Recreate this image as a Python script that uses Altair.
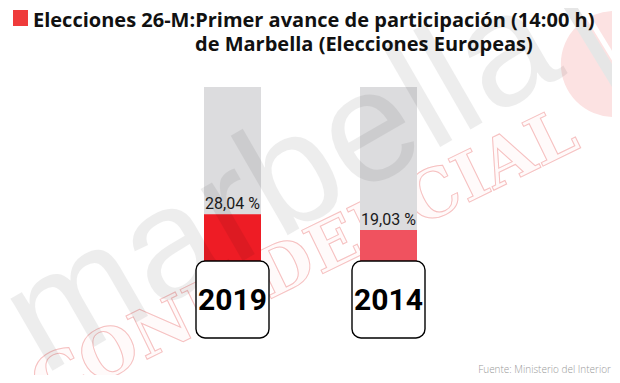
import altair as alt
import pandas as pd

years = ["2019", "2014"]
values = [28.04, 19.03]
labels = ["28,04 %", "19,03 %"]
bar_colors = ["#ee1c25", "#f0525f"]
full = [100, 100]

title_1 = "Elecciones 26-M:Primer avance de participación (14:00 h)"
title_2 = "de Marbella (Elecciones Europeas)"
source = "Fuente: Ministerio del Interior"

df = pd.DataFrame({"year": years, "value": values, "label": labels,
                   "color": bar_colors, "full": full})

# view: page x 154.5..466.5, y 87..338
L, T = 154.5, 87
W, H = 312, 251

x = alt.X("year:N", sort=years, axis=None,
          scale=alt.Scale(paddingInner=0, paddingOuter=0))
yscale = alt.Scale(domain=[-42, 100], nice=False, zero=False)

base = alt.Chart(df)

bg = base.mark_bar(size=57, color="#dcdcde").encode(
    x=x, y=alt.Y("full:Q", scale=yscale, axis=None), y2=alt.datum(0))

fg = base.mark_bar(size=57).encode(
    x=x, y=alt.Y("value:Q", scale=yscale, axis=None), y2=alt.datum(0),
    color=alt.Color("color:N", scale=None))

lab = base.mark_text(font="Roboto", fontSize=16, color="#1a1a1a",
                     baseline="alphabetic", dy=-5).encode(
    x=x, y=alt.Y("value:Q", scale=yscale), text="label:N")

box = base.mark_bar(size=73, fill="white", stroke="black", strokeWidth=1.4,
                    cornerRadius=9).encode(
    x=x, y=alt.value(261 - T), y2=alt.value(338 - T))

yr = base.mark_text(font="Roboto", fontSize=30, fontWeight="bold",
                    color="black", baseline="middle", dy=1).encode(
    x=x, y=alt.value(300 - T), text="year:N")

one = pd.DataFrame({"a": [0]})
ann = alt.Chart(one)

wm1 = ann.mark_text(text="marbella", font="Liberation Sans", fontSize=158,
                    angle=330, color="#000000", opacity=0.065,
                    align="center", baseline="middle").encode(
    x=alt.value(282 - L), y=alt.value(184 - T))

wm2 = ann.mark_text(text="CONFIDENCIAL", font="DejaVu Serif", fontSize=66,
                    fontWeight="bold", angle=334, fill="#fffafa", stroke="#f6c0c0",
                    strokeWidth=1, align="center", baseline="middle").encode(
    x=alt.value(305 - L), y=alt.value(260 - T))

logo = ann.mark_circle(color="#fce2e2", opacity=1, size=11300).encode(
    x=alt.value(614 - L), y=alt.value(64 - T))

stripe1 = ann.mark_rule(color="#e6e6e6", strokeWidth=12).encode(
    x=alt.value(566 - L), x2=alt.value(622 - L),
    y=alt.value(0 - T), y2=alt.value(92 - T))

stripe2 = ann.mark_rule(color="#ffffff", strokeWidth=5).encode(
    x=alt.value(578 - L), x2=alt.value(622 - L),
    y=alt.value(0 - T), y2=alt.value(72 - T))

sq = ann.mark_rect(color="#ef3b3b").encode(
    x=alt.value(13 - L), x2=alt.value(28 - L),
    y=alt.value(10 - T), y2=alt.value(26 - T))

t1 = ann.mark_text(text=title_1, font="Open Sans", fontSize=20, fontWeight="bold",
                   color="#111111", align="left", baseline="alphabetic").encode(
    x=alt.value(33 - L), y=alt.value(27 - T))

t2 = ann.mark_text(text=title_2, font="Open Sans", fontSize=20, fontWeight="bold",
                   color="#111111", align="left", baseline="alphabetic").encode(
    x=alt.value(195 - L), y=alt.value(51 - T))

src = ann.mark_text(text=source, font="Open Sans", fontSize=10, fontWeight=300,
                    color="#9a9a9a", align="right", baseline="alphabetic").encode(
    x=alt.value(611 - L), y=alt.value(373 - T))

chart = alt.layer(logo, stripe1, stripe2, wm2, bg, fg, wm1, lab, box, yr,
                  sq, t1, t2, src).properties(
    width=W, height=H,
    autosize=alt.AutoSizeParams(type="none"),
    padding={"left": L - 8, "top": T - 8, "right": 604 - W - (L - 8), "bottom": 367 - H - (T - 8)},
    background="white",
).configure_view(stroke=None, clip=False)

chart.save("out.html", embed_options={"renderer": "svg", "actions": False})
